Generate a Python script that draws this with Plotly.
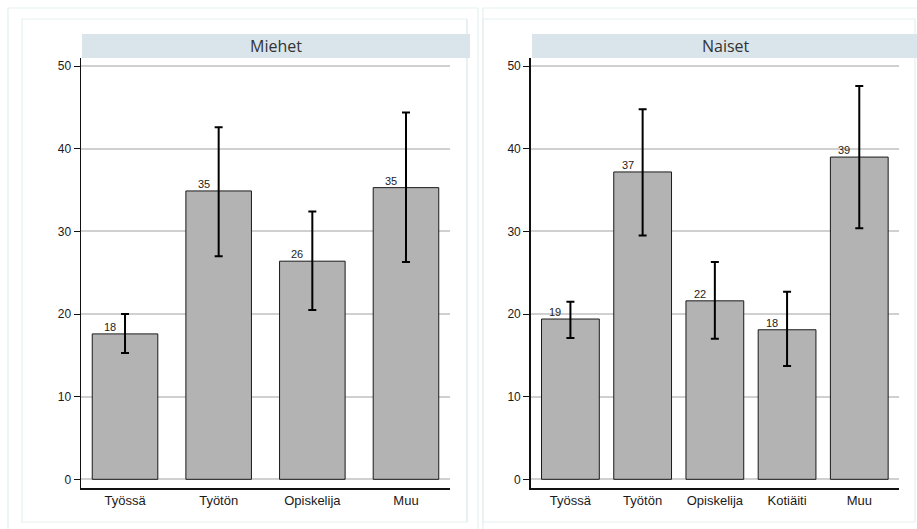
import plotly.graph_objects as go

W, H = 917, 529

# ---- data ----
men_cats = ["Työssä", "Työtön", "Opiskelija", "Muu"]
men_vals = [17.6, 34.9, 26.4, 35.3]
men_lo = [15.3, 27.0, 20.5, 26.3]
men_hi = [20.0, 42.6, 32.4, 44.4]

women_cats = ["Työssä", "Työtön", "Opiskelija", "Kotiäiti", "Muu"]
women_vals = [19.4, 37.2, 21.6, 18.1, 39.0]
women_lo = [17.1, 29.5, 17.0, 13.7, 30.4]
women_hi = [21.5, 44.8, 26.3, 22.7, 47.6]

panel_titles = ["Miehet", "Naiset"]
y_ticks = [0, 10, 20, 30, 40, 50]


def px(x):
    return x / W


def py(y):
    return 1 - y / H


fig = go.Figure()

BAR_COLOR = "#b3b3b3"
XTICK_FONT = dict(family="Liberation Sans, Arial, sans-serif", size=13, color="#1a1a1a")
YTICK_FONT = dict(family="Liberation Sans, Arial, sans-serif", size=12, color="#1a1a1a")

panels = [
    (men_cats, men_vals, men_lo, men_hi, "x", "y", 0.7),
    (women_cats, women_vals, women_lo, women_hi, "x2", "y2", 0.8),
]

annotations = []
for cats, vals, lo, hi, xa, ya, bw in panels:
    idx = list(range(len(cats)))
    fig.add_trace(go.Bar(
        x=idx, y=vals, width=bw,
        marker=dict(color=BAR_COLOR, line=dict(color="#1a1a1a", width=1)),
        error_y=dict(type="data", symmetric=False,
                     array=[h - v for h, v in zip(hi, vals)],
                     arrayminus=[v - l for v, l in zip(vals, lo)],
                     color="black", thickness=2, width=4),
        xaxis=xa, yaxis=ya, showlegend=False, hoverinfo="skip",
    ))
    for i, v in zip(idx, vals):
        annotations.append(dict(
            x=i, y=v, xref=xa, yref=ya, text=str(int(round(v))),
            showarrow=False, yanchor="bottom", xanchor="center",
            xshift=-15, yshift=-1,
            font=dict(family="Liberation Sans, Arial, sans-serif", size=11, color="#222"),
        ))

ydom = [py(488), py(57.5)]
common_y = dict(range=[-1.05, 51.05], tickvals=y_ticks, showgrid=True,
                gridcolor="#d0d0d0", gridwidth=2, zeroline=False,
                showline=True, linecolor="#111", linewidth=1.5,
                ticks="outside", ticklen=6, tickcolor="#111", tickwidth=1,
                tickfont=YTICK_FONT, fixedrange=True)
common_x = dict(showgrid=False, zeroline=False, showline=True, linecolor="#111",
                linewidth=1.5, ticks="", tickfont=XTICK_FONT, fixedrange=True)

fig.update_layout(
    width=W, height=H, margin=dict(l=0, r=0, t=0, b=0),
    paper_bgcolor="white", plot_bgcolor="white",
    bargap=0,
    xaxis=dict(domain=[px(81), px(450)], range=[-0.47, 3.47],
               tickvals=list(range(len(men_cats))), ticktext=men_cats,
               anchor="y", **common_x),
    yaxis=dict(domain=ydom, anchor="x", **common_y),
    xaxis2=dict(domain=[px(530.7), px(899)], range=[-0.55, 4.55],
                tickvals=list(range(len(women_cats))), ticktext=women_cats,
                anchor="y2", **common_x),
    yaxis2=dict(domain=ydom, anchor="x2", **common_y),
)

shapes = []
FRAME = "#e6eff0"
# faint panel frames
for x0, y0, x1, y1 in [(8, 8, 478, 545), (22, 19, 467, 522),
                       (483, 8, 930, 545), (483, 19, 915, 522)]:
    shapes.append(dict(type="rect", xref="paper", yref="paper",
                       x0=px(x0), x1=px(x1), y0=py(y1), y1=py(y0),
                       line=dict(color=FRAME, width=1.2), fillcolor="rgba(0,0,0,0)",
                       layer="below"))
shapes.append(dict(type="line", xref="paper", yref="paper",
                   x0=px(467), x1=px(467), y0=py(522), y1=py(19),
                   line=dict(color=FRAME, width=1.5), layer="below"))

# header strips
for (sx0, sx1), title in zip([(82, 470), (532, 920)], panel_titles):
    shapes.append(dict(type="rect", xref="paper", yref="paper",
                       x0=px(sx0), x1=px(sx1), y0=py(58), y1=py(34),
                       line=dict(width=0), fillcolor="#d9e5eb", layer="above"))
    annotations.append(dict(x=px((sx0 + sx1) / 2), y=py(46), xref="paper", yref="paper",
                            text=title, showarrow=False, xanchor="center", yanchor="middle",
                            font=dict(family="Open Sans, Lato, sans-serif", size=16, color="#333")))

fig.update_layout(shapes=shapes, annotations=annotations)
fig.write_html("out.html", config={"displayModeBar": False, "staticPlot": True},
               post_script="document.body.style.margin='0';document.body.style.overflow='hidden';")
